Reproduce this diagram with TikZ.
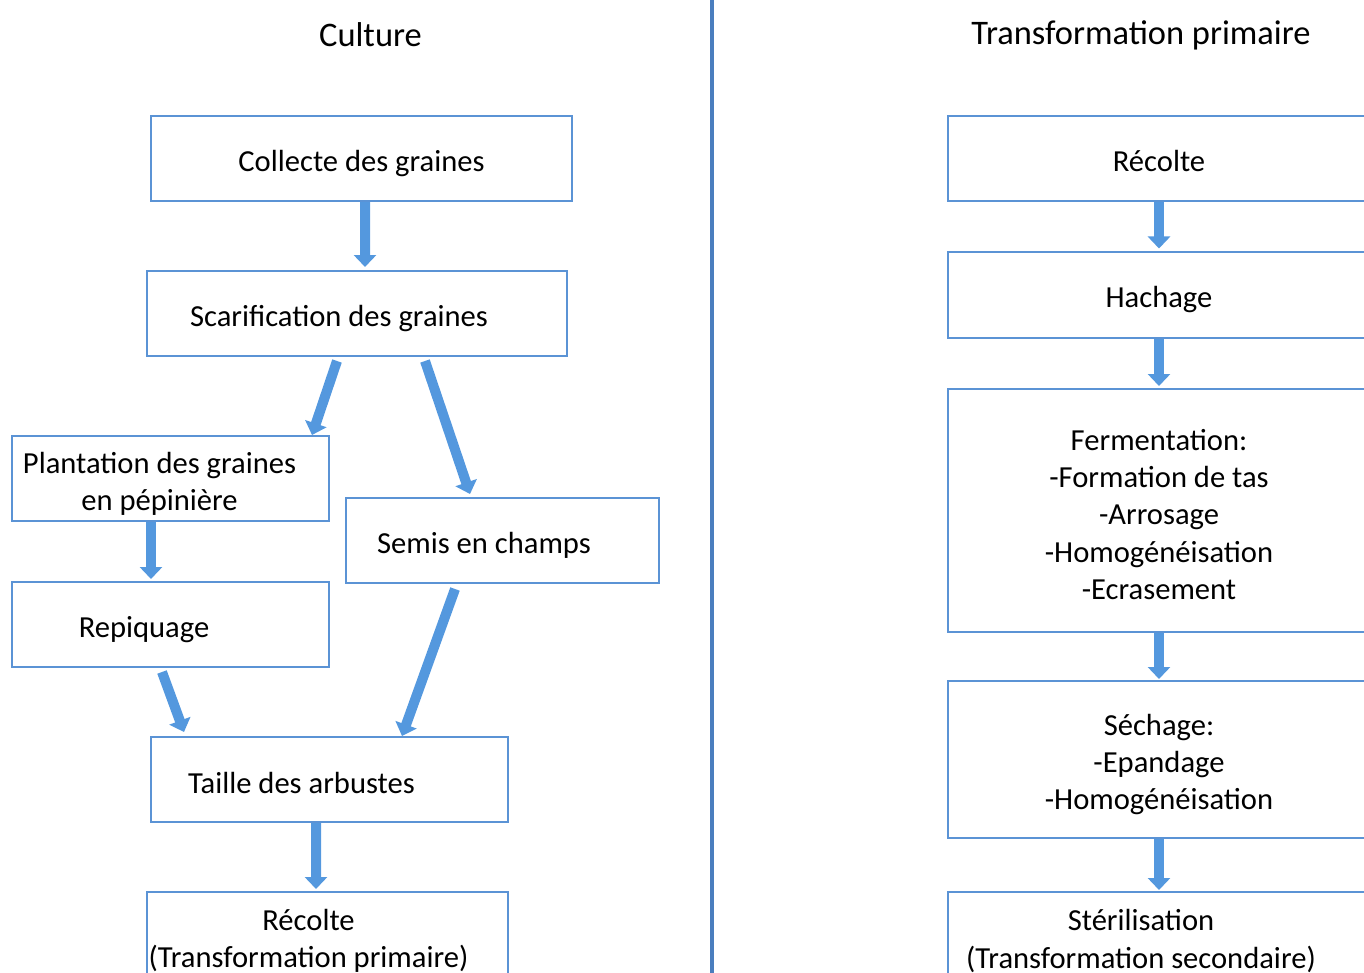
\documentclass[tikz,border=0pt]{standalone}
\usepackage{fontspec}
\setmainfont{Carlito}
\usetikzlibrary{arrows.meta}
\definecolor{boxblue}{RGB}{91,147,213}
\definecolor{lineblue}{RGB}{74,126,190}
\definecolor{arrowblue}{RGB}{84,152,222}
\begin{document}
\begin{tikzpicture}[
  box/.style={draw=boxblue, line width=0.04cm, minimum height=1.7cm},
  every label/.style={align=center, yshift=-0.1cm},
  fatarrow/.style={line width=0.2cm, draw=arrowblue, -{Triangle[width=0.44cm, length=0.24cm]}},
  title/.style={font=\fontsize{19.6}{24}\selectfont},
  font=\fontsize{17.4}{21.1}\selectfont
]
\useasboundingbox (0,0) rectangle (27.28,-19.46);
\clip (0,0) rectangle (27.28,-19.46);
\draw[line width=0.08cm, lineblue] (14.24,0) -- (14.24,-19.46);
\node[title] (culture) at (7.41,-0.7) {Culture};
\node[title] (tprim) at (22.82,-0.7) {Transformation primaire};
% culture
\node[box, minimum width=8.42cm, label={center:Collecte des graines}] (coll) at (7.23,-3.17) {};
\node[box, minimum width=8.4cm, label={[xshift=-0.36cm]center:Scarification des graines}] (scar) at (7.14,-6.27) {};
\node[box, minimum width=6.34cm, label={[xshift=-0.22cm]center:Plantation des graines\\en pépinière}] (plant) at (3.41,-9.57) {};
\node[box, minimum width=6.26cm, label={[xshift=-0.37cm]center:Semis en champs}] (semis) at (10.05,-10.81) {};
\node[box, minimum width=6.34cm, label={[xshift=-0.53cm]center:Repiquage}] (rep) at (3.41,-12.49) {};
\node[box, minimum width=7.14cm, label={[xshift=-0.56cm, yshift=0.04cm]center:Taille des arbustes}] (taille) at (6.59,-15.59) {};
\node[box, minimum width=7.22cm, minimum height=1.84cm, label={[xshift=-0.38cm, yshift=0.04cm]center:Récolte\\(Transformation primaire)}] (recg) at (6.55,-18.76) {};
\draw[fatarrow] ([xshift=0.07cm]coll.south) -- ([xshift=0.16cm, yshift=0.06cm]scar.north);
\draw[fatarrow] ([xshift=-0.4cm, yshift=-0.08cm]scar.south) -- ([xshift=2.83cm]plant.north);
\draw[fatarrow] ([xshift=1.36cm, yshift=-0.08cm]scar.south) -- ([xshift=-0.65cm, yshift=0.06cm]semis.north);
\draw[fatarrow] ([xshift=-0.39cm]plant.south) -- ([xshift=-0.39cm, yshift=0.04cm]rep.north);
\draw[fatarrow] ([xshift=-0.95cm, yshift=-0.1cm]semis.south) -- ([xshift=1.45cm]taille.north);
\draw[fatarrow] ([xshift=-0.17cm, yshift=-0.08cm]rep.south) -- ([xshift=-2.91cm, yshift=0.08cm]taille.north);
\draw[fatarrow] ([xshift=-0.27cm]taille.south) -- ([xshift=-0.23cm, yshift=0.04cm]recg.north);
% transformation primaire
\node[box, minimum width=8.44cm, label={[yshift=0.06cm]center:Récolte}] (r1) at (23.18,-3.17) {};
\node[box, minimum width=8.44cm, label={center:Hachage}] (r2) at (23.18,-5.9) {};
\node[box, minimum width=8.44cm, minimum height=4.86cm, label={[yshift=0.02cm]center:Fermentation:\\-Formation de tas\\-Arrosage\\-Homogénéisation\\-Ecrasement}] (r3) at (23.18,-10.21) {};
\node[box, minimum width=8.44cm, minimum height=3.14cm, label={center:Séchage:\\-Epandage\\-Homogénéisation}] (r4) at (23.18,-15.19) {};
\node[box, minimum width=8.44cm, minimum height=1.84cm, label={[xshift=-0.36cm, yshift=0.04cm]center:Stérilisation\\(Transformation secondaire)}] (r5) at (23.18,-18.76) {};
\draw[fatarrow] (r1.south) -- ([yshift=0.06cm]r2.north);
\draw[fatarrow] (r2.south) -- ([yshift=0.04cm]r3.north);
\draw[fatarrow] (r3.south) -- ([yshift=0.02cm]r4.north);
\draw[fatarrow] (r4.south) -- ([yshift=0.02cm]r5.north);
\end{tikzpicture}
\end{document}
